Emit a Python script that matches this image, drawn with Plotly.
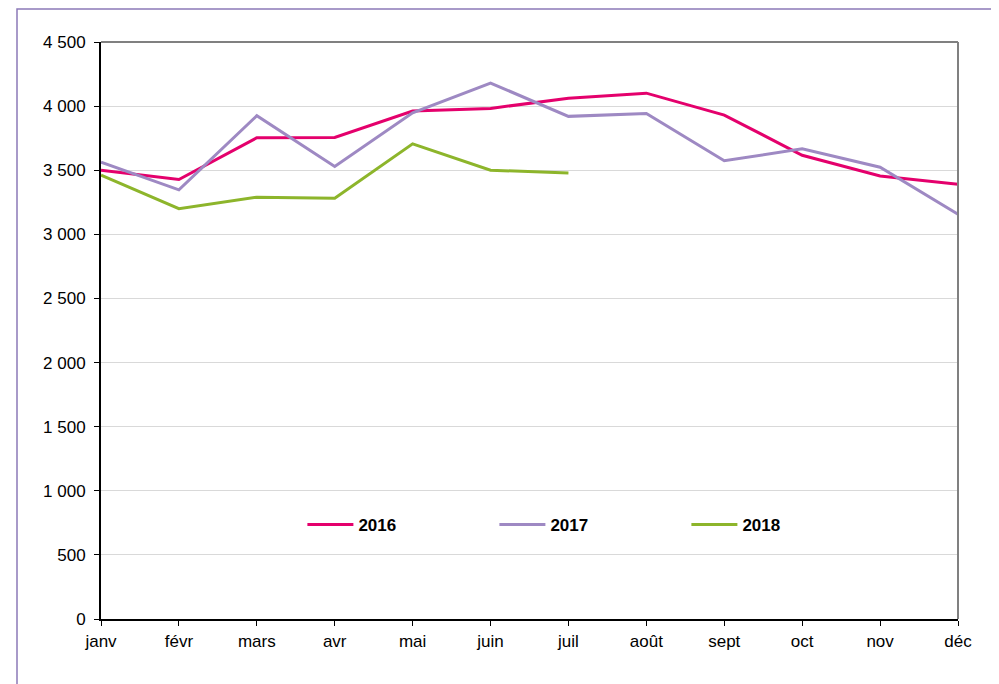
import plotly.graph_objects as go

months = ["janv", "févr", "mars", "avr", "mai", "juin", "juil", "août", "sept", "oct", "nov", "déc"]
v2016 = [3500, 3428, 3753, 3755, 3962, 3982, 4062, 4101, 3930, 3617, 3455, 3391]
v2017 = [3562, 3347, 3925, 3529, 3948, 4180, 3920, 3943, 3574, 3667, 3523, 3157]
v2018 = [3461, 3200, 3290, 3282, 3706, 3500, 3479]
ytickvals = [0, 500, 1000, 1500, 2000, 2500, 3000, 3500, 4000, 4500]
yticktext = ["0", "500", "1 000", "1 500", "2 000", "2 500", "3 000", "3 500", "4 000", "4 500"]

colors = {"2016": "#E4006C", "2017": "#9E89C3", "2018": "#8DB52B"}

fig = go.Figure()
for name, vals in [("2016", v2016), ("2017", v2017), ("2018", v2018)]:
    fig.add_trace(go.Scatter(
        x=list(range(len(vals))), y=vals, mode="lines", name=name,
        line=dict(color=colors[name], width=3),
    ))

# page body has an 8px margin; figure is sized/offset to compensate
fig.update_layout(
    width=991, height=676,
    margin=dict(l=93, r=41, t=34, b=65),
    paper_bgcolor="white", plot_bgcolor="white",
    font=dict(family="Liberation Sans, Arial, sans-serif", size=17, color="black"),
    showlegend=True,
    legend=dict(
        orientation="h", x=0.235, y=0.163, xanchor="left", yanchor="middle",
        entrywidth=131, entrywidthmode="pixels", itemwidth=46,
        font=dict(size=17, family="Liberation Sans, Arial, sans-serif", color="black", weight="bold"),
        bgcolor="rgba(0,0,0,0)",
    ),
    xaxis=dict(
        range=[0, 11], tickvals=list(range(12)), ticktext=months,
        showgrid=False, showline=True, linecolor="black", linewidth=2,
        ticks="outside", ticklen=5, tickcolor="black", tickwidth=1,
        zeroline=False, ticklabelstandoff=1,
    ),
    yaxis=dict(
        range=[0, 4500], tickvals=ytickvals, ticktext=yticktext,
        showgrid=True, gridcolor="#D9D9D9", gridwidth=1,
        showline=True, linecolor="black", linewidth=2,
        ticks="outside", ticklen=5, tickcolor="black", tickwidth=1,
        zeroline=False, ticklabelstandoff=5,
    ),
    shapes=[
        dict(type="line", xref="paper", yref="paper", x0=0, x1=1, y0=1, y1=1,
             line=dict(color="#808080", width=2)),
        dict(type="line", xref="paper", yref="paper", x0=1, x1=1, y0=0, y1=1,
             line=dict(color="#808080", width=2)),
        dict(type="rect", xref="paper", yref="paper",
             x0=(9 - 93) / 857, x1=1.2, y0=-0.3, y1=(611 - 1) / 577,
             line=dict(color="#8C7AB8", width=1.5), layer="below"),
    ],
)

fig.write_html("out.html")
